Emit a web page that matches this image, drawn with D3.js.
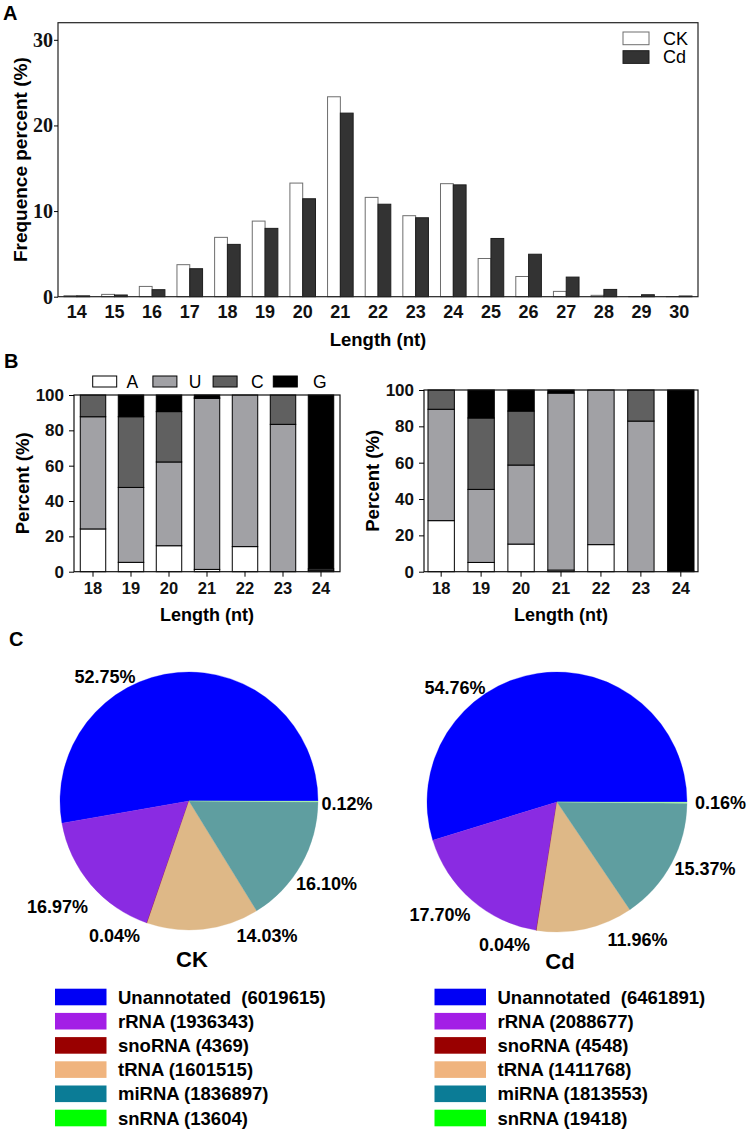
<!DOCTYPE html>
<html><head><meta charset="utf-8">
<script src="https://cdn.jsdelivr.net/npm/d3@7"></script>
<style>body{margin:0;background:#fff} svg{display:block}</style>
</head><body>
<svg id="c" width="750" height="1132"></svg>
<script>
// ---------- Panel A data ----------
const lengthsA = [14,15,16,17,18,19,20,21,22,23,24,25,26,27,28,29,30];
const groupsA = ["CK","Cd"];
const ckFreq = [0.12,0.27,1.2,3.74,6.93,8.83,13.27,23.35,11.6,9.46,13.2,4.46,2.36,0.62,0.16,0.02,0.01];
const cdFreq = [0.1,0.2,0.82,3.27,6.11,7.98,11.44,21.44,10.8,9.22,13.06,6.8,4.96,2.29,0.85,0.23,0.08];
const yTicksA = [0,10,20,30];

// ---------- Panel B data ----------
const lengthsB = [18,19,20,21,22,23,24];
const nucleotides = ["A","U","C","G"];
const ckA = [24.2,5.3,14.7,1.3,14.2,0,0.8];
const ckU = [63.5,42.4,47.4,96.8,85.8,83.4,0.8];
const ckC = [12.3,40,28.5,0.3,0,16.6,0];
const ckG = [0,12.3,9.4,1.6,0,0,98.4];
const cdA = [28.1,5.1,15.2,0.9,14.9,0,0.3];
const cdU = [61.3,40.2,43.5,97.4,85.1,82.9,0];
const cdC = [10.6,39.3,29.7,0,0,17.1,0];
const cdG = [0,15.4,11.6,1.7,0,0,99.7];
const yTicksB = [0,20,40,60,80,100];

// ---------- Panel C data ----------
const rnaTypes = ["Unannotated","rRNA","snoRNA","tRNA","miRNA","snRNA"];
const ckCounts = [6019615,1936343,4369,1601515,1836897,13604];
const cdCounts = [6461891,2088677,4548,1411768,1813553,19418];

// ---------- styles ----------
const SANS = "'Liberation Sans', Arial, Helvetica, sans-serif";
const SERIF = "'Liberation Serif', 'Times New Roman', serif";
const nucColor = {A:"#ffffff", U:"#a1a1a5", C:"#606060", G:"#000000"};
const pieColor = ["#0000ff","#8a2be2","#8b0000","#deb887","#5f9ea0","#a8f0a8"];
const legColor = ["#0000f5","#a31ee6","#990000","#f0b47e","#0b7c96","#00ff00"];

const svg = d3.select("#c");

function panelLabel(t, x, y){
  svg.append("text").attr("x",x).attr("y",y).text(t)
    .attr("font-family",SANS).attr("font-weight","bold").attr("font-size",20);
}

// ================= Panel A =================
panelLabel("A", 3, 20);
const xA = d3.scaleBand().domain(lengthsA).range([58,698]).paddingInner(0.32).paddingOuter(0.16);
const xSubA = d3.scaleBand().domain(groupsA).range([0, xA.bandwidth()]);
const yA = d3.scaleLinear().domain([0,32]).range([296.7,22.7]);
const gA = svg.append("g");

const seriesA = [
  {name:"CK", vals:ckFreq, fill:"#ffffff", stroke:"#6e6e6e"},
  {name:"Cd", vals:cdFreq, fill:"#333333", stroke:"#1e1e1e"}
];
seriesA.forEach(s=>{
  gA.append("g").selectAll("rect").data(lengthsA).join("rect")
    .attr("x", (d)=>xA(d)+xSubA(s.name))
    .attr("y", (d,i)=>yA(s.vals[i]))
    .attr("width", xSubA.bandwidth())
    .attr("height", (d,i)=>yA(0)-yA(s.vals[i]))
    .attr("fill", s.fill).attr("stroke", s.stroke).attr("stroke-width",1);
});
gA.append("rect").attr("x",58).attr("y",yA(32)).attr("width",640).attr("height",yA(0)-yA(32))
  .attr("fill","none").attr("stroke","#222").attr("stroke-width",1.2);

const axYA = gA.append("g").attr("transform","translate(58,0)")
  .call(d3.axisLeft(yA).tickValues(yTicksA).tickSize(4).tickPadding(1));
axYA.select(".domain").remove();
axYA.selectAll("text").attr("font-family",SERIF).attr("font-weight","bold").attr("font-size",20).attr("fill","#111");
const axXA = gA.append("g").attr("transform",`translate(0,${yA(0)})`)
  .call(d3.axisBottom(xA).tickSize(0).tickPadding(9));
axXA.select(".domain").remove();
axXA.selectAll("text").attr("font-family",SANS).attr("font-weight","bold").attr("font-size",18).attr("fill","#111");

gA.append("text").attr("x",378).attr("y",346).attr("text-anchor","middle").text("Length (nt)")
  .attr("font-family",SANS).attr("font-weight","bold").attr("font-size",18.5);
gA.append("text").attr("transform",`translate(27,${(yA(0)+yA(32))/2}) rotate(-90)`)
  .attr("text-anchor","middle").text("Frequence percent (%)")
  .attr("font-family",SANS).attr("font-weight","bold").attr("font-size",19);

// legend A
const legA = gA.append("g");
seriesA.forEach((s,i)=>{
  legA.append("rect").attr("x",623).attr("y",32+i*18.7).attr("width",26).attr("height",12.7)
    .attr("fill",s.fill).attr("stroke",s.stroke).attr("stroke-width",1);
  legA.append("text").attr("x",663).attr("y",38.3+i*18.7).attr("dy","0.36em").text(s.name)
    .attr("font-family",SANS).attr("font-size",18);
});

// ================= Panel B =================
panelLabel("B", 4, 368);
function stackChart(A,U,C,G, x0, x1, yTop, pInner, pOuter){
  const rows = lengthsB.map((l,i)=>({len:l, A:A[i], U:U[i], C:C[i], G:G[i]}));
  const layers = d3.stack().keys(nucleotides)(rows);
  const x = d3.scaleBand().domain(lengthsB).range([x0,x1]).paddingInner(pInner).paddingOuter(pOuter);
  const y = d3.scaleLinear().domain([0,100]).range([571.7, yTop]);
  const g = svg.append("g");
  layers.forEach(layer=>{
    g.append("g").selectAll("rect").data(layer.filter(d=>d[1]-d[0]>0)).join("rect")
      .attr("x", d=>x(d.data.len)).attr("width", x.bandwidth())
      .attr("y", d=>y(d[1])).attr("height", d=>y(d[0])-y(d[1]))
      .attr("fill", nucColor[layer.key]).attr("stroke","#000").attr("stroke-width",1);
  });
  g.append("rect").attr("x",x0).attr("y",y(100)).attr("width",x1-x0).attr("height",y(0)-y(100))
    .attr("fill","none").attr("stroke","#111").attr("stroke-width",1.2);
  const ay = g.append("g").attr("transform",`translate(${x0},0)`)
    .call(d3.axisLeft(y).tickValues(yTicksB).tickSize(5).tickPadding(5));
  ay.select(".domain").remove();
  ay.selectAll("text").attr("font-family",SANS).attr("font-weight","bold").attr("font-size",17).attr("fill","#111");
  const ax = g.append("g").attr("transform",`translate(0,${y(0)})`)
    .call(d3.axisBottom(x).tickSize(5).tickPadding(6));
  ax.select(".domain").remove();
  ax.selectAll("text").attr("font-family",SANS).attr("font-weight","bold").attr("font-size",16.5).attr("fill","#111");
  g.append("text").attr("x",(x0+x1)/2).attr("y",621).attr("text-anchor","middle").text("Length (nt)")
    .attr("font-family",SANS).attr("font-weight","bold").attr("font-size",18);
  g.append("text").attr("transform",`translate(${x0-45},${(y(0)+y(100))/2}) rotate(-90)`)
    .attr("text-anchor","middle").text("Percent (%)")
    .attr("font-family",SANS).attr("font-weight","bold").attr("font-size",18.5);
}
stackChart(ckA,ckU,ckC,ckG, 74, 340, 395, 0.33, 0.165);
stackChart(cdA,cdU,cdC,cdG, 424, 698, 390, 0.34, 0.1);

// legend B
const legB = svg.append("g");
nucleotides.forEach((n,i)=>{
  legB.append("rect").attr("x",92.7+i*60.2).attr("y",376).attr("width",24).attr("height",11)
    .attr("fill",nucColor[n]).attr("stroke","#000").attr("stroke-width",1);
  legB.append("text").attr("x",126.5+i*62.2).attr("y",381.5).attr("dy","0.36em").text(n)
    .attr("font-family",SANS).attr("font-size",17.5);
});

// ================= Panel C =================
panelLabel("C", 9, 646);
// label offsets from pie centre (layout only)
const ckLabelPos = [[-84,-124],[-131.5,106],[-74.5,135],[78,135],[137.5,83],[158,3]];
const cdLabelPos = [[-102,-114],[-117,113],[-52.5,143],[80.5,138],[148,67],[163.5,1]];

function pie(counts, cx, cy, r, title, labelPos, legX){
  const total = d3.sum(counts);
  const arcs = d3.pie().sort(null).startAngle(Math.PI/2).endAngle(Math.PI/2 - 2*Math.PI)(counts);
  const arc = d3.arc().innerRadius(0).outerRadius(r);
  const g = svg.append("g").attr("transform",`translate(${cx},${cy})`);
  g.selectAll("path").data(arcs).join("path").attr("d",arc)
    .attr("fill",(d,i)=>pieColor[i]).attr("stroke",(d,i)=>pieColor[i]).attr("stroke-width",0.3);
  g.selectAll("text.pct").data(arcs).join("text").attr("class","pct")
    .attr("x",(d,i)=>labelPos[i][0]).attr("y",(d,i)=>labelPos[i][1]).attr("dy","0.36em")
    .attr("text-anchor","middle")
    .text(d=>(d.value/total*100).toFixed(2)+"%")
    .attr("font-family",SANS).attr("font-weight","bold").attr("font-size",18);
  g.append("text").attr("x",3).attr("y",r+29).attr("dy","0.36em").attr("text-anchor","middle")
    .text(title).attr("font-family",SANS).attr("font-weight","bold").attr("font-size",22);

  const yL = d3.scalePoint().domain(rnaTypes).range([997,1118]);
  const lg = svg.append("g");
  rnaTypes.forEach((t,i)=>{
    lg.append("rect").attr("x",legX).attr("y",yL(t)-8.3).attr("width",51.5).attr("height",16.6)
      .attr("fill",legColor[i]);
    lg.append("text").attr("x",legX+63).attr("y",yL(t)).attr("dy","0.36em")
      .text(t + (i===0 ? "  " : " ") + "(" + counts[i] + ")")
      .attr("xml:space","preserve").style("white-space","pre")
      .attr("font-family",SANS).attr("font-weight","bold").attr("font-size",18.5);
  });
}
pie(ckCounts, 189, 801, 129, "CK", ckLabelPos, 55);
pie(cdCounts, 557, 802, 130, "Cd", cdLabelPos, 434.5);
</script>
</body></html>
